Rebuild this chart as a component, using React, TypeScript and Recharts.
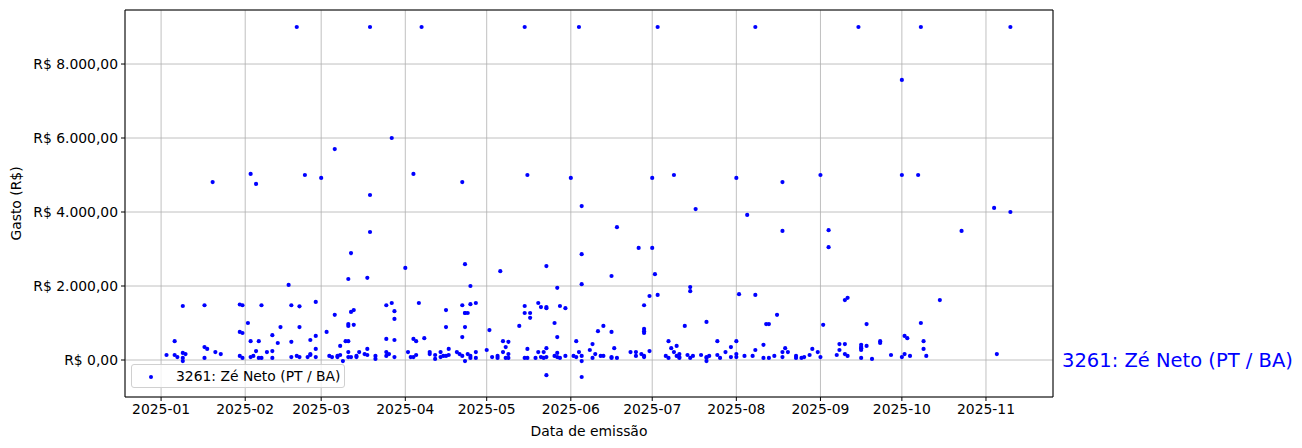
import React from "react";
import {
  ScatterChart,
  Scatter,
  XAxis,
  YAxis,
  CartesianGrid,
  Legend,
  ReferenceArea,
  ReferenceLine,
} from "recharts";

// [dia do mês, gasto em R$] por mês de 2025
const jan = [[3, 135], [6, 510], [6, 135], [7, 80], [9, 190], [9, 1460], [10, 160], [9, 55], [9, -30], [17, 350], [18, 300], [17, 1480], [17, 55], [20, 4810], [21, 215], [23, 160], [30, 110], [30, 760], [31, 730], [31, 1480], [30, 1500], [31, 55]];
const fev = [[2, 1000], [3, 5030], [3, 510], [3, 80], [4, 110], [5, 4760], [5, 240], [6, 510], [6, 55], [7, 55], [7, 1480], [9, 215], [11, 240], [11, 670], [11, 55], [13, 460], [14, 890], [17, 2030], [18, 1480], [18, 490], [18, 80], [20, 9000], [20, 110], [21, 1450], [21, 890], [21, 80], [23, 5000], [24, 80], [25, 135], [25, 160], [25, 540], [27, 1570], [27, 650], [27, 300], [27, 80]];
const mar = [[1, 4920], [3, 760], [4, 110], [5, 80], [6, 5700], [6, 1220], [7, 110], [7, 80], [8, 380], [8, 135], [10, 510], [9, -30], [11, 2190], [11, 970], [11, 920], [11, 215], [11, 510], [11, 80], [12, 2890], [12, 1300], [12, 80], [13, 950], [13, 1350], [14, 80], [15, 215], [14, 110], [17, 160], [18, 300], [18, 135], [18, 2220], [19, 9000], [19, 4460], [19, 3460], [21, 30], [21, 110], [25, 110], [25, 215], [25, 1480], [25, 570], [26, 160], [27, 6000], [27, 1540], [28, 1320], [28, 540], [28, 80], [28, 1110]];
const abr = [[1, 2490], [2, 215], [3, 80], [4, 570], [4, 80], [4, 5030], [5, 510], [5, 135], [6, 1540], [7, 9000], [8, 590], [10, 215], [10, 160], [12, 135], [12, 30], [14, 215], [14, 80], [15, 110], [16, 890], [16, 110], [16, 1350], [17, 300], [17, 135], [20, 215], [21, 160], [22, 4810], [22, 620], [22, 110], [22, 1480], [23, 1270], [23, 890], [23, -30], [23, 2590], [23, 1270], [24, 1270], [24, 160], [25, 2000], [25, 1510], [25, 110], [25, 55], [27, 1540], [27, 215], [27, 55]];
const mai = [[1, 270], [2, 810], [3, 80], [5, 110], [5, 55], [6, 2400], [7, 510], [7, 215], [8, 350], [8, 55], [9, 490], [9, 160], [9, 55], [13, 920], [15, 9000], [15, 1460], [15, 1270], [15, 55], [16, 5000], [16, 300], [16, 55], [17, 1270], [17, 1140], [19, 55], [20, 1540], [20, 215], [21, 1430], [21, 80], [22, 215], [22, 55], [23, 2540], [23, 1430], [23, 1400], [23, 80], [23, -410], [23, 320], [26, 1000], [26, 110], [27, 1950], [27, 620], [27, 190], [27, 80], [28, 1460], [28, 55], [30, 1400], [30, 110]];
const jun = [[1, 4920], [2, 110], [3, 510], [3, 80], [4, 9000], [4, 215], [5, 4160], [5, 110], [5, 2860], [5, 2050], [5, -30], [5, -460], [8, 270], [9, 430], [9, 55], [10, 160], [11, 780], [12, 110], [13, 920], [13, 110], [16, 2270], [16, 760], [16, 80], [16, 55], [17, 320], [18, 3590], [18, 55], [23, 215], [25, 215], [25, 110], [26, 3030], [27, 160], [28, 110], [28, 1480], [28, 840], [28, 780], [28, 730], [28, 80], [30, 1730], [30, 240]];
const jul = [[1, 4920], [1, 3030], [2, 2320], [3, 9000], [3, 1760], [6, 110], [7, 510], [7, 55], [8, 320], [9, 215], [9, 5000], [10, 110], [10, 380], [11, 160], [11, 80], [11, 55], [13, 920], [14, 135], [15, 1970], [15, 1860], [15, 55], [16, 110], [17, 4080], [19, 135], [21, 1030], [21, 55], [21, 80], [21, -30], [22, 110], [25, 510], [25, 135], [26, 55], [28, 215], [30, 350], [30, 80]];
const ago = [[1, 160], [1, 4920], [1, 510], [1, 80], [2, 1780], [4, 110], [5, 3920], [7, 110], [8, 9000], [8, 1760], [8, 270], [11, 410], [11, 55], [12, 970], [13, 970], [13, 55], [15, 110], [16, 1220], [18, 4810], [18, 3490], [18, 215], [18, 80], [19, 320], [20, 215], [23, 110], [23, 55], [25, 55], [26, 80], [28, 135], [29, 300], [31, 215]];
const set = [[1, 5000], [1, 80], [2, 950], [4, 3510], [4, 3050], [7, 135], [8, 430], [8, 270], [10, 1620], [10, 430], [10, 160], [11, 1680], [11, 110], [15, 9000], [16, 410], [16, 350], [16, 320], [16, 270], [16, 55], [18, 970], [18, 380], [20, 30], [23, 510], [23, 460], [27, 135]];
const out = [[1, 7570], [1, 5000], [1, 80], [2, 160], [2, 650], [3, 590], [4, 110], [7, 5000], [8, 9000], [8, 1000], [9, 510], [9, 300], [10, 110], [15, 1620], [23, 3490]];
const nov = [[4, 4110], [5, 160], [10, 9000], [10, 4000]];

const meses = [jan, fev, mar, abr, mai, jun, jul, ago, set, out, nov];
const mesTicks = ["2025-01", "2025-02", "2025-03", "2025-04", "2025-05", "2025-06", "2025-07", "2025-08", "2025-09", "2025-10", "2025-11"];
const gastoTicks = [0, 2000, 4000, 6000, 8000];
const deputado = "3261: Zé Neto (PT / BA)";

const DIA = 86400000;
const T0 = Date.UTC(2025, 0, 1);
const diaDoAno = (m: number, d: number) => (Date.UTC(2025, m, d) - T0) / DIA;

const data = meses.flatMap((pts, m) => pts.map(([d, v]) => ({ x: diaDoAno(m, d), y: v })));
const xTicks = mesTicks.map((_, m) => diaDoAno(m, 1));
const X_MIN = -13.3;
const X_MAX = 328.7;
const Y_MIN = -1000;
const Y_MAX = 9460;

const fmtReal = (v: number) =>
  "R$ " + v.toLocaleString("pt-BR", { minimumFractionDigits: 2, maximumFractionDigits: 2 });

const font = "DejaVu Sans";
const tickStyle = { fontSize: 13.9, fill: "#000", fontFamily: font };

const Dot = (props: any) => <circle cx={props.cx} cy={props.cy} r={2.1} fill="blue" />;

const LegendBox = () => (
  <div
    style={{
      width: 214,
      height: 24,
      boxSizing: "border-box",
      border: "1px solid #d0d0d0",
      borderRadius: 3,
      background: "rgba(255,255,255,0.8)",
      fontFamily: font,
      fontSize: 13.9,
      display: "flex",
      alignItems: "center",
      color: "#000",
    }}
  >
    <svg width={44} height={22} style={{ flex: "none" }}>
      <circle cx={19} cy={12} r={2} fill="blue" />
    </svg>
    <span>{deputado}</span>
  </div>
);

export default function App() {
  return (
    <div style={{ width: 1286, height: 432, fontFamily: font }}>
      <ScatterChart width={1286} height={432} margin={{ top: 2, right: 241, bottom: 0, left: 0 }}>
        <CartesianGrid stroke="#b0b0b0" strokeWidth={0.8} />
        <XAxis
          type="number"
          dataKey="x"
          domain={[X_MIN, X_MAX]}
          ticks={xTicks}
          allowDataOverflow
          height={43}
          tickFormatter={(v) => mesTicks[xTicks.indexOf(v)] ?? ""}
          tick={tickStyle}
          tickSize={4}
          tickMargin={3}
          tickLine={{ stroke: "#000" }}
          axisLine={false}
          label={{ value: "Data de emissão", position: "insideBottom", offset: 4, fill: "#000", fontSize: 13.9, fontFamily: font }}
        />
        <YAxis
          type="number"
          dataKey="y"
          domain={[Y_MIN, Y_MAX]}
          ticks={gastoTicks}
          allowDataOverflow
          width={117}
          tickFormatter={fmtReal}
          tick={tickStyle}
          tickSize={4}
          tickMargin={3}
          tickLine={{ stroke: "#000" }}
          axisLine={false}
          label={{ value: "Gasto (R$)", angle: -90, position: "insideLeft", offset: 8, fill: "#000", fontSize: 13.9, fontFamily: font, style: { textAnchor: "middle" } }}
        />
        <ReferenceLine
          y={0}
          stroke="none"
          label={{ value: deputado, position: "right", offset: 9, fill: "blue", fontSize: 19.5, fontFamily: font }}
        />
        <Scatter name={deputado} data={data} fill="blue" shape={Dot} isAnimationActive={false} />
        <ReferenceArea x1={X_MIN} x2={X_MAX} y1={Y_MIN} y2={Y_MAX} fill="none" stroke="#000" strokeWidth={1} ifOverflow="visible" />
        <Legend
          layout="horizontal"
          verticalAlign="middle"
          align="center"
          content={() => <LegendBox />}
          wrapperStyle={{ position: "absolute", left: 123, top: 356, width: 214 }}
        />
      </ScatterChart>
    </div>
  );
}
